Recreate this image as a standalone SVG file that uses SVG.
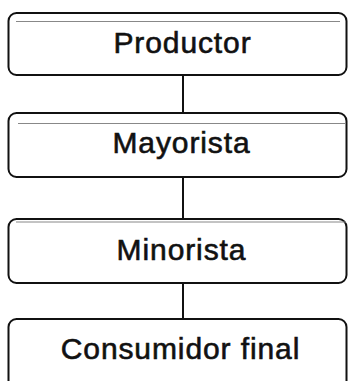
<svg xmlns="http://www.w3.org/2000/svg" width="348" height="381" viewBox="0 0 348 381">
<style>
.box{fill:#fff;stroke:#111;stroke-width:2}
.inner{stroke:#888;stroke-width:1;fill:none}
.lbl{font-family:"Liberation Sans",Arial,sans-serif;font-size:30px;letter-spacing:0.9px;fill:#111;stroke:#111;stroke-width:0.6px;text-anchor:middle}
.con{stroke:#111;stroke-width:2;fill:none}
</style>
<rect width="348" height="381" fill="#fff"/>
<g id="connectors">
<line class="con" x1="183" y1="75" x2="183" y2="113"/>
<line class="con" x1="183" y1="177" x2="183" y2="219"/>
<line class="con" x1="183" y1="283" x2="183" y2="319"/>
</g>
<g id="productor">
<rect class="box" x="8.5" y="13" width="338" height="62" rx="8"/>
<line class="inner" x1="16" y1="21.5" x2="340" y2="21.5"/>
<text class="lbl" x="182.5" y="53">Productor</text>
</g>
<g id="mayorista">
<rect class="box" x="8.5" y="113" width="338" height="64" rx="8"/>
<line class="inner" x1="18" y1="123.5" x2="346" y2="123.5"/>
<text class="lbl" x="181.5" y="153">Mayorista</text>
</g>
<g id="minorista">
<rect class="box" x="8.5" y="219" width="338" height="64" rx="8"/>
<line class="inner" x1="16" y1="222" x2="346" y2="222"/>
<text class="lbl" x="181.5" y="260">Minorista</text>
</g>
<g id="consumidor">
<rect class="box" x="8.5" y="319" width="338" height="80" rx="8"/>
<text class="lbl" x="180.5" y="359">Consumidor final</text>
</g>
</svg>
